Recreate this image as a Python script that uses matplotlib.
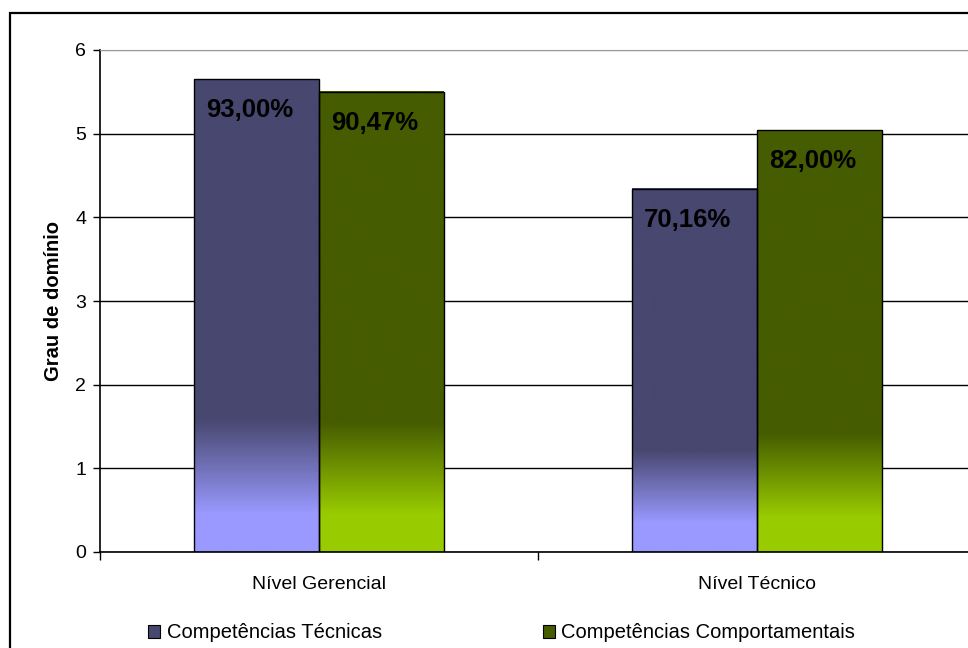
import numpy as np
import matplotlib
matplotlib.use("Agg")
import matplotlib.pyplot as plt
from matplotlib.colors import LinearSegmentedColormap
from matplotlib.patches import Rectangle, Patch
from matplotlib.ticker import FixedLocator
import matplotlib.transforms as mtransforms

plt.rcParams['font.family'] = ['Liberation Sans', 'DejaVu Sans']

categories = ["Nível Gerencial", "Nível Técnico"]
series_names = ["Competências Técnicas", "Competências Comportamentais"]
tecnicas = [5.65, 4.34]
comportamentais = [5.50, 5.04]
labels_tecnicas = ["93,00%", "70,16%"]
labels_comport = ["90,47%", "82,00%"]
yticks = [0, 1, 2, 3, 4, 5, 6]

# gradient stops: (dark top colour, light bottom colour)
palette = [("#47476F", "#9999FF"), ("#465C00", "#99CC00")]

W, H = 968, 648
fig = plt.figure(figsize=(W / 100, H / 100), dpi=100)
fig.patch.set_facecolor("white")

# outer chart frame
fig.add_artist(Rectangle((10 / W, -0.05), 1.1, 1 - 13 / H + 0.05,
                         transform=fig.transFigure, fill=False,
                         edgecolor="black", linewidth=1.6))

ax = fig.add_axes([100 / W, 1 - 552 / H, 876 / W, 502 / H])
ax.set_xlim(-0.5, 1.5)
ax.set_ylim(0, 6)

width = 125 / 438
x = np.arange(len(categories))


def gradient_bar(xc, val, dark, light):
    cmap = LinearSegmentedColormap.from_list(
        "g", [(0.0, light), (0.08, light), (0.28, dark), (1.0, dark)])
    grad = np.linspace(0, 1, 256).reshape(-1, 1)
    ax.imshow(grad, cmap=cmap, origin="lower", aspect="auto",
              extent=(xc - width / 2, xc + width / 2, 0, val),
              zorder=2, interpolation="bilinear")
    ax.bar(xc, val, width=width, facecolor="none", edgecolor="black",
           linewidth=1.0, zorder=3)


lab_off = mtransforms.offset_copy(ax.transData, fig=fig, x=-7, y=-31,
                                  units="dots")
for i in range(len(categories)):
    for vals, labs, (dark, light), shift in (
            (tecnicas, labels_tecnicas, palette[0], -width / 2),
            (comportamentais, labels_comport, palette[1], width / 2)):
        xc = x[i] + shift
        gradient_bar(xc, vals[i], dark, light)
        ax.text(xc, vals[i], labs[i], transform=lab_off, ha="center",
                va="center", fontsize=18.5, fontweight="bold", color="black",
                zorder=4)

ax.set_xlim(-0.5, 1.5)
ax.set_ylim(0, 6)

# axes styling
ax.set_yticks(yticks)
ax.yaxis.grid(True, color="black", linewidth=1.0)
ax.set_axisbelow(True)
for gl, t in zip(ax.get_ygridlines(), yticks):
    if t == 6:
        gl.set_color("#999999")
ax.tick_params(axis="y", direction="out", length=5, width=1,
               labelsize=14, pad=5)
ax.set_xticks(x)
ax.set_xticklabels(categories)
ax.tick_params(axis="x", which="major", length=0, labelsize=14, pad=17)
ax.xaxis.set_minor_locator(FixedLocator([-0.5, 0.5, 1.5]))
ax.tick_params(axis="x", which="minor", direction="out", length=6, width=1)

for side in ("left", "bottom"):
    ax.spines[side].set_color("black")
    ax.spines[side].set_linewidth(1.2)
ax.spines["top"].set_color("#999999")
ax.spines["right"].set_visible(False)

ax.set_ylabel("Grau de domínio", fontsize=14.5, fontweight="bold",
              labelpad=9)

handles = [Patch(facecolor=palette[0][0], edgecolor="black", linewidth=0.8),
           Patch(facecolor=palette[1][0], edgecolor="black", linewidth=0.8)]
fig.legend(handles, series_names, loc="center left",
           bbox_to_anchor=(148 / W, 1 - 633 / H), ncol=2, frameon=False,
           fontsize=14.5, handlelength=0.62, handleheight=0.62,
           handletextpad=0.3, columnspacing=8.0, borderpad=0,
           borderaxespad=0)

fig.savefig("out.png", dpi=100, facecolor="white")
